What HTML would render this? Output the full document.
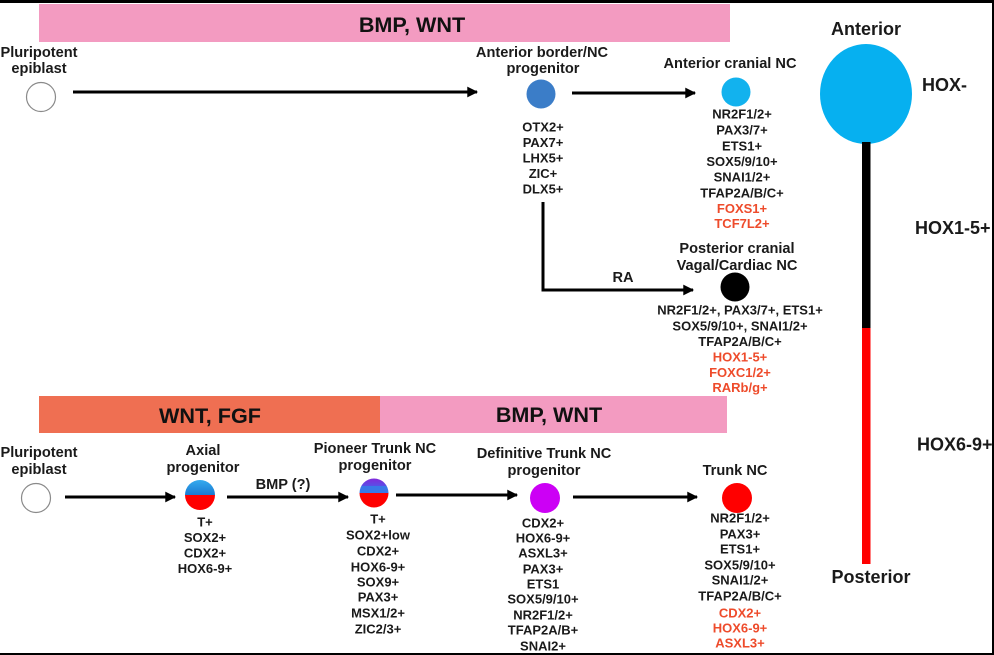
<!DOCTYPE html>
<html>
<head>
<meta charset="utf-8">
<style>
  html, body { margin: 0; padding: 0; background: #ffffff; }
  body { width: 994px; height: 655px; overflow: hidden; }
  svg { display: block; }
  text { font-family: "Liberation Sans", Arial, sans-serif; font-weight: bold; fill: #1a1a1a; }
  .t { font-size: 14.6px; text-anchor: middle; }
  .m { font-size: 13px; text-anchor: middle; }
  .r { fill: #ee4b2b; }
  .big { font-size: 21.6px; text-anchor: middle; fill: #111; }
  .ax { font-size: 18px; }
</style>
</head>
<body>
<svg width="994" height="655" viewBox="0 0 994 655" xmlns="http://www.w3.org/2000/svg">
  <defs>
    <marker id="ah" viewBox="0 0 10 10" refX="9" refY="5" markerWidth="4" markerHeight="3.6" orient="auto" markerUnits="strokeWidth">
      <path d="M0,0 L10,5 L0,10 z" fill="#000"/>
    </marker>
    <clipPath id="cAx"><circle cx="200" cy="495" r="15"/></clipPath>
    <clipPath id="cPi"><circle cx="374" cy="493" r="14.5"/></clipPath>
    <linearGradient id="gBlue" x1="0" y1="0" x2="0" y2="1">
      <stop offset="0" stop-color="#36aef0"/>
      <stop offset="1" stop-color="#1a7ad2"/>
    </linearGradient>
    <linearGradient id="gPur" x1="0" y1="0" x2="0" y2="1">
      <stop offset="0" stop-color="#8a22d8"/>
      <stop offset="1" stop-color="#5a4ee6"/>
    </linearGradient>
  </defs>

  <rect x="0" y="0" width="994" height="655" fill="#fff"/>

  <!-- top bar -->
  <rect x="39" y="4" width="691" height="38" fill="#f39bc1"/>
  <text class="big" x="412" y="32">BMP, WNT</text>

  <!-- top left -->
  <text class="t" x="39" y="57">Pluripotent</text>
  <text class="t" x="39" y="73">epiblast</text>
  <circle cx="41" cy="97" r="14.5" fill="#fff" stroke="#8a8a8a" stroke-width="1.2"/>
  <line x1="73" y1="92" x2="477" y2="92" stroke="#000" stroke-width="3" marker-end="url(#ah)"/>

  <!-- Anterior border -->
  <text class="t" x="542" y="57">Anterior border/NC</text>
  <text class="t" x="543" y="73">progenitor</text>
  <circle cx="541" cy="94" r="14.5" fill="#3b7dc8"/>
  <text class="m" x="543" y="131.7">OTX2+</text>
  <text class="m" x="543" y="147">PAX7+</text>
  <text class="m" x="543" y="162.5">LHX5+</text>
  <text class="m" x="543" y="178">ZIC+</text>
  <text class="m" x="543" y="193.5">DLX5+</text>
  <line x1="572" y1="93" x2="695" y2="93" stroke="#000" stroke-width="3" marker-end="url(#ah)"/>

  <!-- Anterior cranial NC -->
  <text class="t" x="730" y="68">Anterior cranial NC</text>
  <circle cx="736" cy="92" r="14.5" fill="#12b2ee"/>
  <text class="m" x="742" y="118.7">NR2F1/2+</text>
  <text class="m" x="742" y="134.5">PAX3/7+</text>
  <text class="m" x="742" y="150.3">ETS1+</text>
  <text class="m" x="742" y="166">SOX5/9/10+</text>
  <text class="m" x="742" y="181.7">SNAI1/2+</text>
  <text class="m" x="742" y="197.5">TFAP2A/B/C+</text>
  <text class="m r" x="742" y="213">FOXS1+</text>
  <text class="m r" x="742" y="228">TCF7L2+</text>

  <!-- RA branch -->
  <polyline points="543,202 543,290 693,290" fill="none" stroke="#000" stroke-width="3" marker-end="url(#ah)"/>
  <text class="t" x="623" y="282">RA</text>

  <!-- Posterior cranial -->
  <text class="t" x="737" y="253">Posterior cranial</text>
  <text class="t" x="737" y="270">Vagal/Cardiac NC</text>
  <circle cx="735" cy="287" r="14.5" fill="#000"/>
  <text class="m" x="740" y="314.7">NR2F1/2+, PAX3/7+, ETS1+</text>
  <text class="m" x="740" y="330.5">SOX5/9/10+, SNAI1/2+</text>
  <text class="m" x="740" y="346">TFAP2A/B/C+</text>
  <text class="m r" x="740" y="361.7">HOX1-5+</text>
  <text class="m r" x="740" y="377">FOXC1/2+</text>
  <text class="m r" x="740" y="392">RARb/g+</text>

  <!-- right axis -->
  <text class="ax" x="866" y="35" text-anchor="middle">Anterior</text>
  <ellipse cx="866" cy="94" rx="46" ry="50" fill="#06b0f0"/>
  <text class="ax" x="922" y="91">HOX-</text>
  <rect x="862" y="142" width="8.5" height="186" fill="#000"/>
  <rect x="862" y="328" width="8.5" height="236" fill="#ff0000"/>
  <text class="ax" x="915" y="234">HOX1-5+</text>
  <text class="ax" x="917" y="450.5">HOX6-9+</text>
  <text class="ax" x="871" y="583" text-anchor="middle">Posterior</text>

  <!-- bottom bars -->
  <rect x="39" y="396" width="341" height="37" fill="#ef6f52"/>
  <text class="big" x="210" y="423">WNT, FGF</text>
  <rect x="380" y="396" width="347" height="37" fill="#f39bc1"/>
  <text class="big" x="549" y="422">BMP, WNT</text>

  <!-- bottom left -->
  <text class="t" x="39" y="457">Pluripotent</text>
  <text class="t" x="39" y="474">epiblast</text>
  <circle cx="36" cy="498" r="14.5" fill="#fff" stroke="#8a8a8a" stroke-width="1.2"/>
  <line x1="65" y1="497" x2="175" y2="497" stroke="#000" stroke-width="3" marker-end="url(#ah)"/>

  <!-- Axial -->
  <text class="t" x="203" y="455">Axial</text>
  <text class="t" x="203" y="472">progenitor</text>
  <g clip-path="url(#cAx)">
    <rect x="184" y="479" width="32" height="16" fill="url(#gBlue)"/>
    <rect x="184" y="495" width="32" height="16" fill="#ff0000"/>
  </g>
  <text class="m" x="205" y="526.7">T+</text>
  <text class="m" x="205" y="542.2">SOX2+</text>
  <text class="m" x="205" y="557.7">CDX2+</text>
  <text class="m" x="205" y="573.2">HOX6-9+</text>
  <line x1="227" y1="497" x2="348" y2="497" stroke="#000" stroke-width="3" marker-end="url(#ah)"/>
  <text class="t" x="283" y="489">BMP (?)</text>

  <!-- Pioneer -->
  <text class="t" x="375" y="453">Pioneer Trunk NC</text>
  <text class="t" x="375" y="470">progenitor</text>
  <g clip-path="url(#cPi)">
    <rect x="358" y="477" width="32" height="9" fill="url(#gPur)"/>
    <rect x="358" y="486" width="32" height="7" fill="#3a78e8"/>
    <rect x="358" y="493" width="32" height="16" fill="#ff0000"/>
  </g>
  <text class="m" x="378" y="523.7">T+</text>
  <text class="m" x="378" y="539.7">SOX2+low</text>
  <text class="m" x="378" y="555.7">CDX2+</text>
  <text class="m" x="378" y="571.7">HOX6-9+</text>
  <text class="m" x="378" y="586.7">SOX9+</text>
  <text class="m" x="378" y="601.7">PAX3+</text>
  <text class="m" x="378" y="617.7">MSX1/2+</text>
  <text class="m" x="378" y="633.7">ZIC2/3+</text>
  <line x1="396" y1="495" x2="517" y2="495" stroke="#000" stroke-width="3" marker-end="url(#ah)"/>

  <!-- Definitive -->
  <text class="t" x="544" y="458">Definitive Trunk NC</text>
  <text class="t" x="544" y="475">progenitor</text>
  <circle cx="545" cy="498" r="15" fill="#cc00f5"/>
  <text class="m" x="543" y="527.7">CDX2+</text>
  <text class="m" x="543" y="542.7">HOX6-9+</text>
  <text class="m" x="543" y="557.7">ASXL3+</text>
  <text class="m" x="543" y="573.7">PAX3+</text>
  <text class="m" x="543" y="588.7">ETS1</text>
  <text class="m" x="543" y="603.7">SOX5/9/10+</text>
  <text class="m" x="543" y="619.7">NR2F1/2+</text>
  <text class="m" x="543" y="634.7">TFAP2A/B+</text>
  <text class="m" x="543" y="650.5">SNAI2+</text>
  <line x1="573" y1="497" x2="697" y2="497" stroke="#000" stroke-width="3" marker-end="url(#ah)"/>

  <!-- Trunk NC -->
  <text class="t" x="735" y="475">Trunk NC</text>
  <circle cx="737" cy="498" r="15" fill="#ff0000"/>
  <text class="m" x="740" y="522.7">NR2F1/2+</text>
  <text class="m" x="740" y="538.7">PAX3+</text>
  <text class="m" x="740" y="553.7">ETS1+</text>
  <text class="m" x="740" y="569.7">SOX5/9/10+</text>
  <text class="m" x="740" y="584.7">SNAI1/2+</text>
  <text class="m" x="740" y="600.7">TFAP2A/B/C+</text>
  <text class="m r" x="740" y="617.7">CDX2+</text>
  <text class="m r" x="740" y="632.7">HOX6-9+</text>
  <text class="m r" x="740" y="647.7">ASXL3+</text>

  <!-- frame edges -->
  <rect x="0" y="0" width="994" height="3" fill="#000"/>
  <rect x="992" y="0" width="2" height="655" fill="#000"/>
  <rect x="0" y="653" width="994" height="2" fill="#000"/>
</svg>
</body>
</html>
